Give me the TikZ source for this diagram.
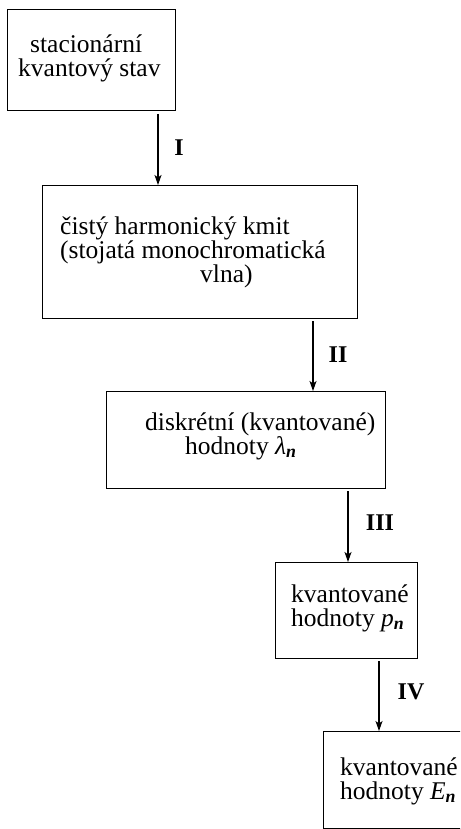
\documentclass[tikz,border=0pt]{standalone}
\usepackage{fontspec}
\setmainfont{Liberation Serif}
\usetikzlibrary{arrows.meta}
\begin{document}
\begin{tikzpicture}[x=1pt,y=-1pt,
  box/.style={draw, line width=1pt, inner sep=0pt, outer sep=0pt, anchor=north west},
  txt/.style={anchor=west, align=left, inner sep=0pt, font=\fontsize{25.5pt}{24pt}\selectfont},
  lbl/.style={inner sep=0pt, font=\bfseries\fontsize{24pt}{24pt}\selectfont},
  arr/.style={line width=1.1pt, -{Stealth[length=10pt,width=7pt,inset=2.5pt]}, shorten <=3pt}]
\clip (0,0) rectangle (460,829);
% boxes
\node[box, minimum width=168pt, minimum height=101pt] (b1) at (7,10) {};
\node[box, minimum width=315pt, minimum height=133pt] (b2) at (42,185) {};
\node[box, minimum width=279pt, minimum height=97pt] (b3) at (106,391) {};
\node[box, minimum width=142pt, minimum height=96pt] (b4) at (275,562) {};
\node[box, minimum width=146pt, minimum height=97pt] (b5) at (323,731) {};
% texts
\node[txt] (t1) at (18,58) {\hspace*{12pt}stacionární\\kvantový stav};
\node[txt] (t2) at (60,252) {čistý harmonický kmit\\(stojatá monochromatická\\\hspace*{140pt}vlna)};
\node[txt] (t3) at (145,436) {diskrétní (kvantované)\\\hspace*{40pt}hodnoty \textit{λ}\textsubscript{\textbf{\textit{n}}}};
\node[txt] (t4) at (291,608) {kvantované\\hodnoty \textit{p}\textsubscript{\textbf{\textit{n}}}};
\node[txt] (t5) at (340,781) {kvantované\\hodnoty \textit{E}\textsubscript{\textbf{\textit{n}}}};
% arrow columns
\coordinate (c1) at (158,0);
\coordinate (c2) at (313,0);
\coordinate (c3) at (348,0);
\coordinate (c4) at (379,0);
\draw[arr] (b1.south -| c1) -- (b2.north -| c1);
\draw[arr] (b2.south -| c2) -- (b3.north -| c2);
\draw[arr] (b3.south -| c3) -- (b4.north -| c3);
\draw[arr] (b4.south -| c4) -- (b5.north -| c4);
% labels
\node[lbl] (l1) at (179,148) {I};
\node[lbl] (l2) at (338,355) {II};
\node[lbl] (l3) at (380,523) {III};
\node[lbl] (l4) at (411,692) {IV};
\end{tikzpicture}
\end{document}
